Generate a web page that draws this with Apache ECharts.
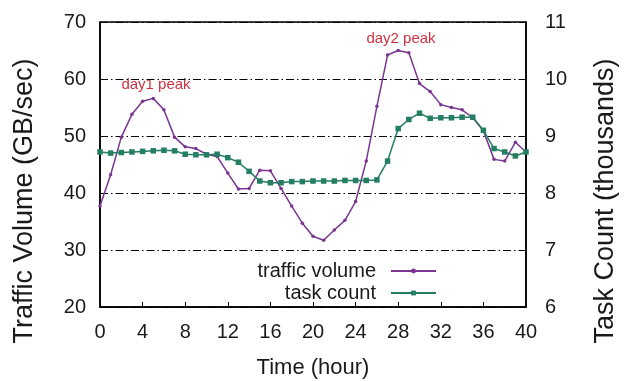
<!DOCTYPE html>
<html>
<head>
<meta charset="utf-8">
<script src="https://cdn.jsdelivr.net/npm/echarts@6/dist/echarts.min.js"></script>
<style>
html,body{margin:0;padding:0;background:#fff;}
#chart{width:640px;height:381px;}
</style>
</head>
<body>
<div id="chart"></div>
<script>
var hours = [0,1,2,3,4,5,6,7,8,9,10,11,12,13,14,15,16,17,18,19,20,21,22,23,24,25,26,27,28,29,30,31,32,33,34,35,36,37,38,39,40];
var trafficVolume = [37.7,43.2,49.8,53.8,56.1,56.6,54.6,49.8,48.1,47.8,46.8,46.4,43.5,40.7,40.8,44.0,43.9,40.8,37.7,34.7,32.4,31.7,33.5,35.2,38.5,45.6,55.2,64.2,65.0,64.6,59.2,57.8,55.5,55.0,54.6,53.2,50.9,45.9,45.6,48.9,47.2];
var taskCount = [8.72,8.70,8.71,8.72,8.73,8.74,8.75,8.74,8.68,8.67,8.67,8.68,8.62,8.54,8.38,8.21,8.18,8.18,8.20,8.20,8.21,8.21,8.21,8.22,8.22,8.22,8.23,8.56,9.13,9.29,9.40,9.31,9.32,9.32,9.33,9.33,9.10,8.78,8.72,8.65,8.72];
var xTicks = {min:0, max:40, interval:4};
var leftTicks = {min:20, max:70, interval:10};
var rightTicks = {min:6, max:11, interval:1};
var seriesNames = ['traffic volume','task count'];
var annotations = [{text:'day1 peak', x:156, y:85},{text:'day2 peak', x:401, y:39}];

var FONT = 'Liberation Sans, Arial, Helvetica, sans-serif';
var purple = '#7a3590';
var green = '#237e63';
var textColor = '#1a1a1a';

var chart = echarts.init(document.getElementById('chart'), null, {renderer:'canvas'});
var pairs1 = hours.map(function(h,i){return [h, trafficVolume[i]];});
var pairs2 = hours.map(function(h,i){return [h, taskCount[i]];});

var gridDash = [8,3,1.5,3];

chart.setOption({
  animation:false,
  backgroundColor:'#fff',
  grid:{left:100, right:114, top:22, bottom:74, show:true, borderColor:'#000', borderWidth:1.5, backgroundColor:'transparent', outerBoundsMode:'none', containLabel:false},
  xAxis:{
    type:'value', min:xTicks.min, max:xTicks.max, interval:xTicks.interval,
    axisLine:{show:true, onZero:false, lineStyle:{color:'#000', width:1.5}},
    axisTick:{show:true, inside:true, length:5, lineStyle:{color:'#000'}},
    axisLabel:{color:textColor, fontFamily:FONT, fontSize:20, margin:15},
    splitLine:{show:false},
    name:'Time (hour)', nameLocation:'middle', nameGap:50,
    nameTextStyle:{color:textColor, fontFamily:FONT, fontSize:22}
  },
  yAxis:[{
    type:'value', min:leftTicks.min, max:leftTicks.max, interval:leftTicks.interval, position:'left',
    axisLine:{show:true, lineStyle:{color:'#000', width:1.5}},
    axisTick:{show:true, inside:true, length:5, lineStyle:{color:'#000'}},
    axisLabel:{color:textColor, fontFamily:FONT, fontSize:20, margin:14},
    splitLine:{show:true, lineStyle:{color:'#000', width:1, type:gridDash}}
  },{
    type:'value', min:rightTicks.min, max:rightTicks.max, interval:rightTicks.interval, position:'right',
    axisLine:{show:true, lineStyle:{color:'#000', width:1.5}},
    axisTick:{show:true, inside:true, length:5, lineStyle:{color:'#000'}},
    axisLabel:{color:textColor, fontFamily:FONT, fontSize:20, margin:19},
    splitLine:{show:false}
  }],
  legend:[{
    data:[seriesNames[0]], orient:'vertical', align:'right', right:203, top:261, padding:0,
    itemWidth:45, itemHeight:6,
    textStyle:{color:textColor, fontFamily:FONT, fontSize:20, padding:[0,10,0,0]}
  },{
    data:[seriesNames[1]], orient:'vertical', align:'right', right:203, top:283, padding:0,
    itemWidth:45, itemHeight:6,
    textStyle:{color:textColor, fontFamily:FONT, fontSize:20, padding:[0,10,0,0]}
  }],
  series:[{
    name:seriesNames[0], type:'line', yAxisIndex:0, data:pairs1,
    symbol:'circle', symbolSize:3.5, showSymbol:true,
    lineStyle:{color:purple, width:1.5}, itemStyle:{color:purple}
  },{
    name:seriesNames[1], type:'line', yAxisIndex:1, data:pairs2,
    symbol:'rect', symbolSize:5.5, showSymbol:true,
    lineStyle:{color:green, width:1.5}, itemStyle:{color:green}
  }],
  graphic:[
    {type:'text', x:25, y:201, rotation:Math.PI/2, style:{text:'Traffic Volume (GB/sec)', fill:textColor, font:'27px ' + FONT, textAlign:'center', textVerticalAlign:'middle'}},
    {type:'text', x:606, y:201, rotation:Math.PI/2, style:{text:'Task Count (thousands)', fill:textColor, font:'27px ' + FONT, textAlign:'center', textVerticalAlign:'middle'}}
  ].concat(annotations.map(function(a){
    return {type:'text', x:a.x, y:a.y, style:{text:a.text, fill:'#cc3340', font:'15px ' + FONT, textAlign:'center', textVerticalAlign:'middle'}};
  }))
});
</script>
</body>
</html>
